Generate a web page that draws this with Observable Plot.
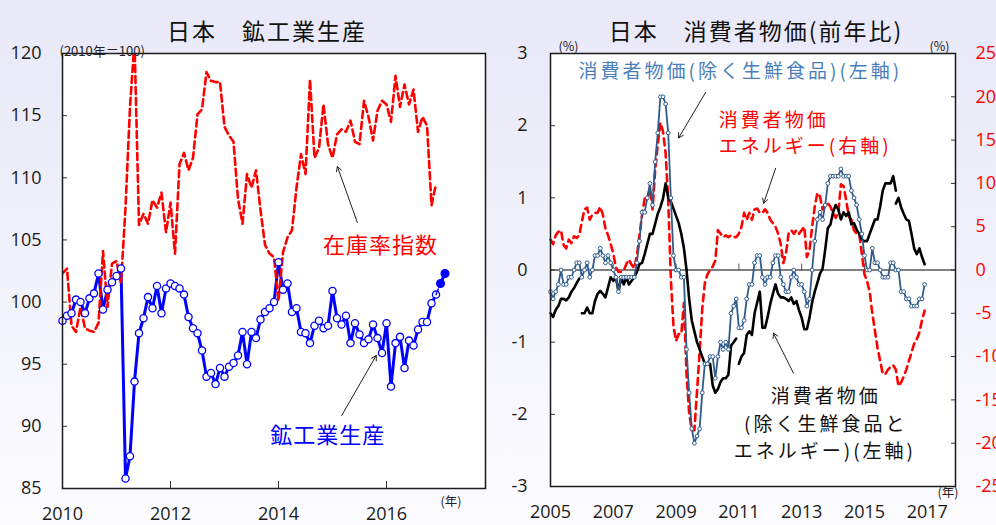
<!DOCTYPE html>
<html><head><meta charset="utf-8">
<script src="https://cdn.jsdelivr.net/npm/d3@7"></script>
<script src="https://cdn.jsdelivr.net/npm/@observablehq/plot@0.6"></script>
<style>
html,body{margin:0;padding:0;}
body{width:996px;height:525px;overflow:hidden;position:relative;
 background:linear-gradient(to bottom,#e8e8f8 0%,#f2f2fb 55%,#fcfcff 100%);}
#left{position:absolute;left:0;top:0;}
#right{position:absolute;left:500px;top:0;}
svg{overflow:visible;}
</style></head><body>
<div id="left"></div><div id="right"></div>
<script>
// ---------- LEFT PANEL DATA (monthly, Jan 2010 - Dec 2016) ----------
const production = [
 98.5, 98.9, 99.1,100.2,100.0, 99.1,100.3,100.7,102.3, 99.4,101.0,101.6,
102.1,102.7, 85.8, 87.6, 93.6, 97.5, 98.7,100.4, 99.5,101.3, 99.1,101.1,
101.5,101.3,101.1,100.6, 98.8, 97.9, 97.5, 96.1, 94.0, 94.3, 93.4, 94.7,
 94.0, 94.8, 95.1, 95.7, 97.6, 95.0, 97.6, 97.1, 98.6, 99.2, 99.5,100.0,
103.2,101.0,101.5, 99.2, 99.5, 97.6, 97.5, 96.7, 98.1, 98.5, 97.9, 98.1,
100.9, 98.7, 98.2, 98.9, 96.7, 98.3, 97.4, 96.7, 97.0, 98.2, 97.1, 95.9,
 98.3, 93.2, 96.7, 97.2, 94.7, 96.9, 96.5, 97.8, 98.4, 98.4, 99.9,100.6];
const productionForecast = [101.5, 102.3]; // Jan, Feb 2017
const inventory = [
102.3,102.7, 98.1, 97.6, 99.6, 97.9, 97.7, 97.6, 98.3,104.1, 99.6,103.1,
103.3,101.5,107.6,115.7,121.0,106.2,107.1,106.3,108.2,107.6,108.8,105.6,
108.0,103.9,111.1,112.0,110.6,111.6,115.1,115.5,118.5,117.8,117.7,117.7,
114.1,113.4,112.9,108.3,106.3,110.3,109.2,110.6,107.4,104.6,103.9,103.6,
100.1,104.0,105.2,105.8,109.2,111.9,110.3,117.9,111.6,112.4,115.9,112.7,
111.6,113.5,113.9,113.7,114.6,112.9,112.7,116.2,114.9,113.0,115.4,116.2,
115.9,114.5,118.2,115.7,117.5,115.9,117.1,113.7,114.9,114.2,107.8,109.5];
const leftYTicks = [85, 90, 95, 100, 105, 110, 115, 120];
const leftXTicks = [2010, 2012, 2014, 2016];
const leftTitle = "日本　鉱工業生産";
const leftUnit = "(2010年＝100)";
const yearUnit = "(年)";
const leftLabels = [
 {x: 2015.89, y: 104.55, text: "在庫率指数", color: "#ff0000"},
 {x: 2014.91, y: 89.26, text: "鉱工業生産", color: "#0000ff"}];
const leftArrows = [
 {x1: 2015.46, y1: 106.4, x2: 2015.09, y2: 110.9},
 {x1: 2015.17, y1: 90.87, x2: 2015.81, y2: 95.7}];

// ---------- RIGHT PANEL DATA (monthly, Jan 2005 - Dec 2016) ----------
const coreCPI = [
-0.3,-0.4,-0.3,-0.2, 0.0,-0.2,-0.2,-0.1,-0.1, 0.0, 0.1, 0.1,
-0.1, 0.0, 0.1,-0.1, 0.0, 0.2, 0.2, 0.3, 0.2, 0.1, 0.2, 0.1,
 0.0,-0.1,-0.3,-0.1,-0.1,-0.1,-0.1,-0.1,-0.1, 0.1, 0.4, 0.8,
 0.8, 1.0, 1.2, 0.9, 1.5, 1.9, 2.4, 2.4, 2.3, 1.9, 1.0, 0.2,
 0.0, 0.0,-0.1,-0.1,-1.1,-1.7,-2.2,-2.4,-2.3,-2.2,-1.7,-1.3,
-1.3,-1.2,-1.2,-1.5,-1.2,-1.0,-1.1,-1.0,-1.1,-0.6,-0.5,-0.4,
-0.8,-0.8,-0.7,-0.4,-0.2,-0.2, 0.1, 0.2, 0.2,-0.1,-0.2,-0.1,
-0.1, 0.1, 0.2, 0.2,-0.1,-0.2,-0.3,-0.3,-0.1, 0.0,-0.1,-0.2,
-0.2,-0.3,-0.5,-0.4, 0.0, 0.4, 0.7, 0.8, 0.7, 0.9, 1.2, 1.3,
 1.3, 1.3, 1.3, 1.4, 1.3, 1.3, 1.3, 1.1, 1.0, 0.9, 0.7, 0.5,
 0.2, 0.0, 0.0, 0.3, 0.1, 0.1, 0.0,-0.1,-0.1,-0.1, 0.1, 0.1,
 0.0, 0.0,-0.3,-0.3,-0.4,-0.4,-0.5,-0.5,-0.5,-0.4,-0.4,-0.2];
const energyCPI = [
  3.5,  3.0,  4.0,  4.4,  4.6,  2.9,  2.5,  3.5,  3.1,  3.9,  3.7,  4.0,
  5.6,  7.0,  7.2,  5.8,  6.4,  6.6,  6.6,  7.3,  6.4,  4.8,  4.0,  3.0,
  1.9,  0.3, -0.2, -0.2, -0.1,  0.7,  1.2,  0.6,  0.2,  1.6,  4.0,  6.3,
  8.3,  8.3,  9.4,  7.0, 11.5, 14.5, 17.0, 16.0, 13.5,  8.0, -1.0, -6.5,
 -8.2, -7.4, -7.4, -3.8,-12.0,-16.5,-18.5,-18.5,-14.0, -9.5, -4.5, -1.5,
 -0.5,  0.0,  0.4,  1.1,  4.6,  4.2,  3.8,  4.0,  3.8,  4.0,  3.8,  3.8,
  4.2,  5.0,  6.6,  5.8,  6.6,  5.8,  7.0,  7.1,  6.6,  6.6,  7.0,  6.6,
  5.8,  5.4,  5.0,  4.2,  3.0,  0.8,  1.9,  4.2,  4.6,  4.2,  4.6,  4.2,
  4.6,  5.0,  1.5,  2.3,  5.0,  7.3,  8.9,  8.5,  7.0,  7.7,  7.7,  7.3,
  6.6,  6.0,  6.6,  9.9,  9.7,  8.1,  6.2,  5.8,  4.6,  4.2,  4.2,  1.9,
 -0.5, -1.3, -2.5, -5.0, -7.0, -9.0,-10.5,-12.0,-12.0,-11.5,-11.2,-11.0,
-11.5,-13.4,-13.0,-12.3,-11.5,-10.5, -9.5, -8.5, -8.0, -7.2, -5.8, -4.7];
// core-core (excl. fresh food and energy), one array per base period
const coreCore2005 = [-0.6,-0.65,-0.55,-0.5,-0.4,-0.4,-0.42,-0.38,-0.3,-0.25,-0.18,-0.12]; // Jan-Dec 2005
const coreCore2006to2010 = [
-0.6,-0.6,-0.52,-0.6,-0.6,-0.43,-0.33,-0.29,-0.33,-0.38,-0.24,-0.1,
-0.15,-0.1,-0.3,-0.1,-0.2,-0.1,-0.2,-0.15,-0.1,-0.03,0.08,0.1,
 0.22,0.36,0.5,0.5,0.64,0.78,0.87,0.99,1.2,1.0,0.95,0.85,
 0.75,0.65,0.5,0.3,0.0,-0.4,-0.7,-0.85,-1.0,-1.1,-1.2,-1.3,
-1.3,-1.3,-1.6,-1.7,-1.65,-1.55,-1.5,-1.5,-1.45,-1.05,-1.0,-0.95]; // Jan 2006 - Dec 2010
const coreCore2011to2016 = [
-1.3,-1.2,-1.15,-0.9,-0.85,-0.9,-0.6,-0.45,-0.3,-0.8,-0.8,-0.65,
-0.47,-0.33,-0.2,-0.33,-0.38,-0.38,-0.4,-0.43,-0.38,-0.47,-0.43,-0.56,
-0.66,-0.82,-0.82,-0.66,-0.45,-0.3,-0.18,-0.05,0.02,0.28,0.58,0.63,
 0.8,0.9,0.84,0.7,0.8,0.75,0.8,0.63,0.65,0.56,0.5,0.42,
 0.4,0.4,0.5,0.6,0.7,0.7,0.88,1.1,1.2,1.2,1.2,1.3,
 1.1]; // Jan 2011 - Jan 2016
const coreCore2016 = [0.92,1.0,0.87,0.78,0.7,0.68,0.5,0.3,0.22,0.3,0.18,0.08]; // Jan-Dec 2016 (new base)
const rightYTicks = [-3, -2, -1, 0, 1, 2, 3];
const rightY2Ticks = [-25, -20, -15, -10, -5, 0, 5, 10, 15, 20, 25];
const rightXTicks = [2005, 2007, 2009, 2011, 2013, 2015, 2017];
const rightTitle = "日本　消費者物価(前年比)";
const pctUnit = "(%)";
const rightLabelsCentered = [
 {x: 2011.05, y: 2.74, text: "消費者物価(除く生鮮食品)(左軸)", color: "#4a7ebb"},
 {x: 2013.77, y: -1.76, text: "消費者物価", color: "#111111"},
 {x: 2013.77, y: -2.15, text: "(除く生鮮食品と", color: "#111111"},
 {x: 2013.74, y: -2.52, text: "エネルギー)(左軸)", color: "#111111"}];
const rightLabelsLeftAligned = [
 {x: 2010.36, y: 2.07, text: "消費者物価", color: "#ff0000"},
 {x: 2010.36, y: 1.70, text: "エネルギー(右軸)", color: "#ff0000"}];
const rightArrows = [
 {x1: 2009.94, y1: 2.46, x2: 2009.08, y2: 1.83},
 {x1: 2012.17, y1: 1.41, x2: 2011.79, y2: 0.925},
 {x1: 2012.74, y1: -1.43, x2: 2012.10, y2: -0.875}];

// ---------- helpers ----------
const monthly = (year, month0, values, extra = {}) =>
  values.map((v, i) => ({t: year + (month0 + i) / 12, v, ...extra}));
const NUM = "'Open Sans', 'Noto Sans', sans-serif";
const JP = "'Noto Sans CJK JP', 'Noto Sans', sans-serif";
function spacing(svg, map) {
  for (const [fs, ls] of Object.entries(map)) {
    svg.querySelectorAll(`g[font-size="${fs}"]`).forEach(g => g.style.letterSpacing = ls + "px");
  }
}

// ---------- LEFT PLOT ----------
const prodData = monthly(2010, 0, production);
const invData = monthly(2010, 0, inventory);
const fcData = monthly(2017, 0, productionForecast);
const bridge = [prodData[prodData.length - 1], fcData[0]];

const L = Plot.plot({
  width: 500, height: 525,
  marginLeft: 62, marginRight: 15, marginTop: 53, marginBottom: 37,
  x: {domain: [2010, 2017.833], axis: null},
  y: {domain: [85, 120], axis: null},
  style: {background: "transparent", fontFamily: NUM, color: "#1a1a1a", overflow: "visible"},
  marks: [
    Plot.frame({fill: "white", stroke: null}),
    Plot.axisY({ticks: leftYTicks.slice(1, -1), tickSize: 5, dx: 5, tickFormat: () => "", stroke: "#333"}),
    Plot.axisY({ticks: leftYTicks, tickSize: 0, tickPadding: 21, fontSize: 18, fill: "#1a1a1a", tickFormat: d => String(d)}),
    Plot.axisX({ticks: leftXTicks.slice(1), tickSize: 7, dy: -7, tickFormat: () => "", stroke: "#333"}),
    Plot.axisX({ticks: leftXTicks, tickSize: 0, tickPadding: 19, fontSize: 18, fill: "#1a1a1a", tickFormat: d => String(d)}),
    Plot.line(prodData, {x: "t", y: "v", stroke: "#0000ff", strokeWidth: 3}),
    Plot.line(invData, {x: "t", y: "v", stroke: "#ff0000", strokeWidth: 2.6, strokeDasharray: "7,4", clip: true}),
    Plot.dot(prodData, {x: "t", y: "v", r: 3.6, fill: "white", stroke: "#0000ff", strokeWidth: 1.3}),
    Plot.line(bridge, {x: "t", y: "v", stroke: "#0000ff", strokeWidth: 1.5, strokeDasharray: "2,2"}),
    Plot.line(fcData, {x: "t", y: "v", stroke: "#0000ff", strokeWidth: 3}),
    Plot.dot(fcData, {x: "t", y: "v", r: 3.8, fill: "#0000ff", stroke: "#0000ff"}),
    Plot.frame({stroke: "#1a1a1a", strokeWidth: 1.5}),
    Plot.arrow(leftArrows, {x1: "x1", y1: "y1", x2: "x2", y2: "y2", stroke: "#222", strokeWidth: 1, headLength: 8}),
    Plot.text(leftLabels, {x: "x", y: "y", text: "text", fill: "color", fontSize: 22, fontFamily: JP}),
    Plot.text([leftTitle], {frameAnchor: "top", text: d => d, dx: -7, dy: -30, fontSize: 23, fontFamily: JP, fill: "#111"}),
    Plot.text([leftUnit], {frameAnchor: "top-left", text: d => d, textAnchor: "start", dx: -3, dy: -7, fontSize: 13, fontFamily: JP, fill: "#222"}),
    Plot.text([yearUnit], {frameAnchor: "bottom-right", text: d => d, dx: -24, dy: 17, fontSize: 12.5, fontFamily: JP, fill: "#222"})
  ]
});
spacing(L, {"22": 1, "23": 2});
document.getElementById("left").appendChild(L);

// ---------- RIGHT PLOT ----------
const E = 3 / 25; // right-axis (energy) units -> left-axis units
const coreData = monthly(2005, 0, coreCPI);
const energyData = monthly(2005, 0, energyCPI);
const coreCoreData = [
  ...monthly(2005, 0, coreCore2005, {seg: "a"}),
  ...monthly(2006, 0, coreCore2006to2010, {seg: "b"}),
  ...monthly(2011, 0, coreCore2011to2016, {seg: "c"}),
  ...monthly(2016, 0, coreCore2016, {seg: "d"})];
const tickUp = {draw(ctx, l) { ctx.moveTo(0, 0); ctx.lineTo(0, -l); }};

const R = Plot.plot({
  width: 496, height: 525,
  marginLeft: 50, marginRight: 41, marginTop: 53, marginBottom: 39,
  x: {domain: [2005, 2017.9], axis: null},
  y: {domain: [-3, 3], axis: null},
  style: {background: "transparent", fontFamily: NUM, color: "#1a1a1a", overflow: "visible"},
  marks: [
    Plot.frame({fill: "white", stroke: null}),
    Plot.ruleY([0], {stroke: "#808080", strokeWidth: 2}),
    Plot.vector(rightXTicks.slice(1, -1), {x: d => d, y: 0, length: 6, anchor: "start", shape: tickUp, stroke: "#555", strokeWidth: 1}),
    Plot.axisY({ticks: rightYTicks.slice(1, -1), tickSize: 5, dx: 5, tickFormat: () => "", stroke: "#333"}),
    Plot.axisY({ticks: rightYTicks, tickSize: 0, tickPadding: 23, fontSize: 18, fill: "#1a1a1a", tickFormat: d => String(d)}),
    Plot.axisY({anchor: "right", ticks: rightY2Ticks.slice(1, -1).map(v => v * E), tickSize: 5, dx: -5, tickFormat: () => "", stroke: "#333"}),
    Plot.axisY({anchor: "right", ticks: rightY2Ticks.map(v => v * E), tickSize: 0, tickPadding: 20, fontSize: 18, fill: "#ff0000", tickFormat: d => String(Math.round(d / E))}),
    Plot.axisX({ticks: rightXTicks, tickSize: 0, tickPadding: 19, fontSize: 18, fill: "#1a1a1a", tickFormat: d => String(d)}),
    Plot.line(energyData, {x: "t", y: d => d.v * E, stroke: "#ff0000", strokeWidth: 2.6, strokeDasharray: "7,5"}),
    Plot.line(coreCoreData, {x: "t", y: "v", z: "seg", stroke: "#000", strokeWidth: 2.6}),
    Plot.line(coreData, {x: "t", y: "v", stroke: "#2e5b8c", strokeWidth: 1.8}),
    Plot.dot(coreData, {x: "t", y: "v", r: 1.9, fill: "white", stroke: "#2e5b8c", strokeWidth: 1}),
    Plot.frame({stroke: "#1a1a1a", strokeWidth: 1.5}),
    Plot.arrow(rightArrows, {x1: "x1", y1: "y1", x2: "x2", y2: "y2", stroke: "#222", strokeWidth: 1, headLength: 8}),
    Plot.text(rightLabelsCentered, {x: "x", y: "y", text: "text", fill: "color", textAnchor: "middle", fontSize: 19, fontFamily: JP}),
    Plot.text(rightLabelsLeftAligned, {x: "x", y: "y", text: "text", fill: "color", textAnchor: "start", fontSize: 19, fontFamily: JP}),
    Plot.text([rightTitle], {frameAnchor: "top", text: d => d, dx: 3, dy: -30, fontSize: 23, fontFamily: JP, fill: "#111"}),
    Plot.text([pctUnit], {frameAnchor: "top-left", text: d => d, dx: 8, dy: -11, fontSize: 12.5, fontFamily: JP, fill: "#222"}),
    Plot.text([pctUnit], {frameAnchor: "top-right", text: d => d, dx: -6, dy: -11, fontSize: 12.5, fontFamily: JP, fill: "#222"}),
    Plot.text([yearUnit], {frameAnchor: "bottom-right", text: d => d, dx: 3, dy: 10, fontSize: 12.5, fontFamily: JP, fill: "#222"})
  ]
});
spacing(R, {"19": 3, "23": 2});
document.getElementById("right").appendChild(R);
</script>
</body></html>
